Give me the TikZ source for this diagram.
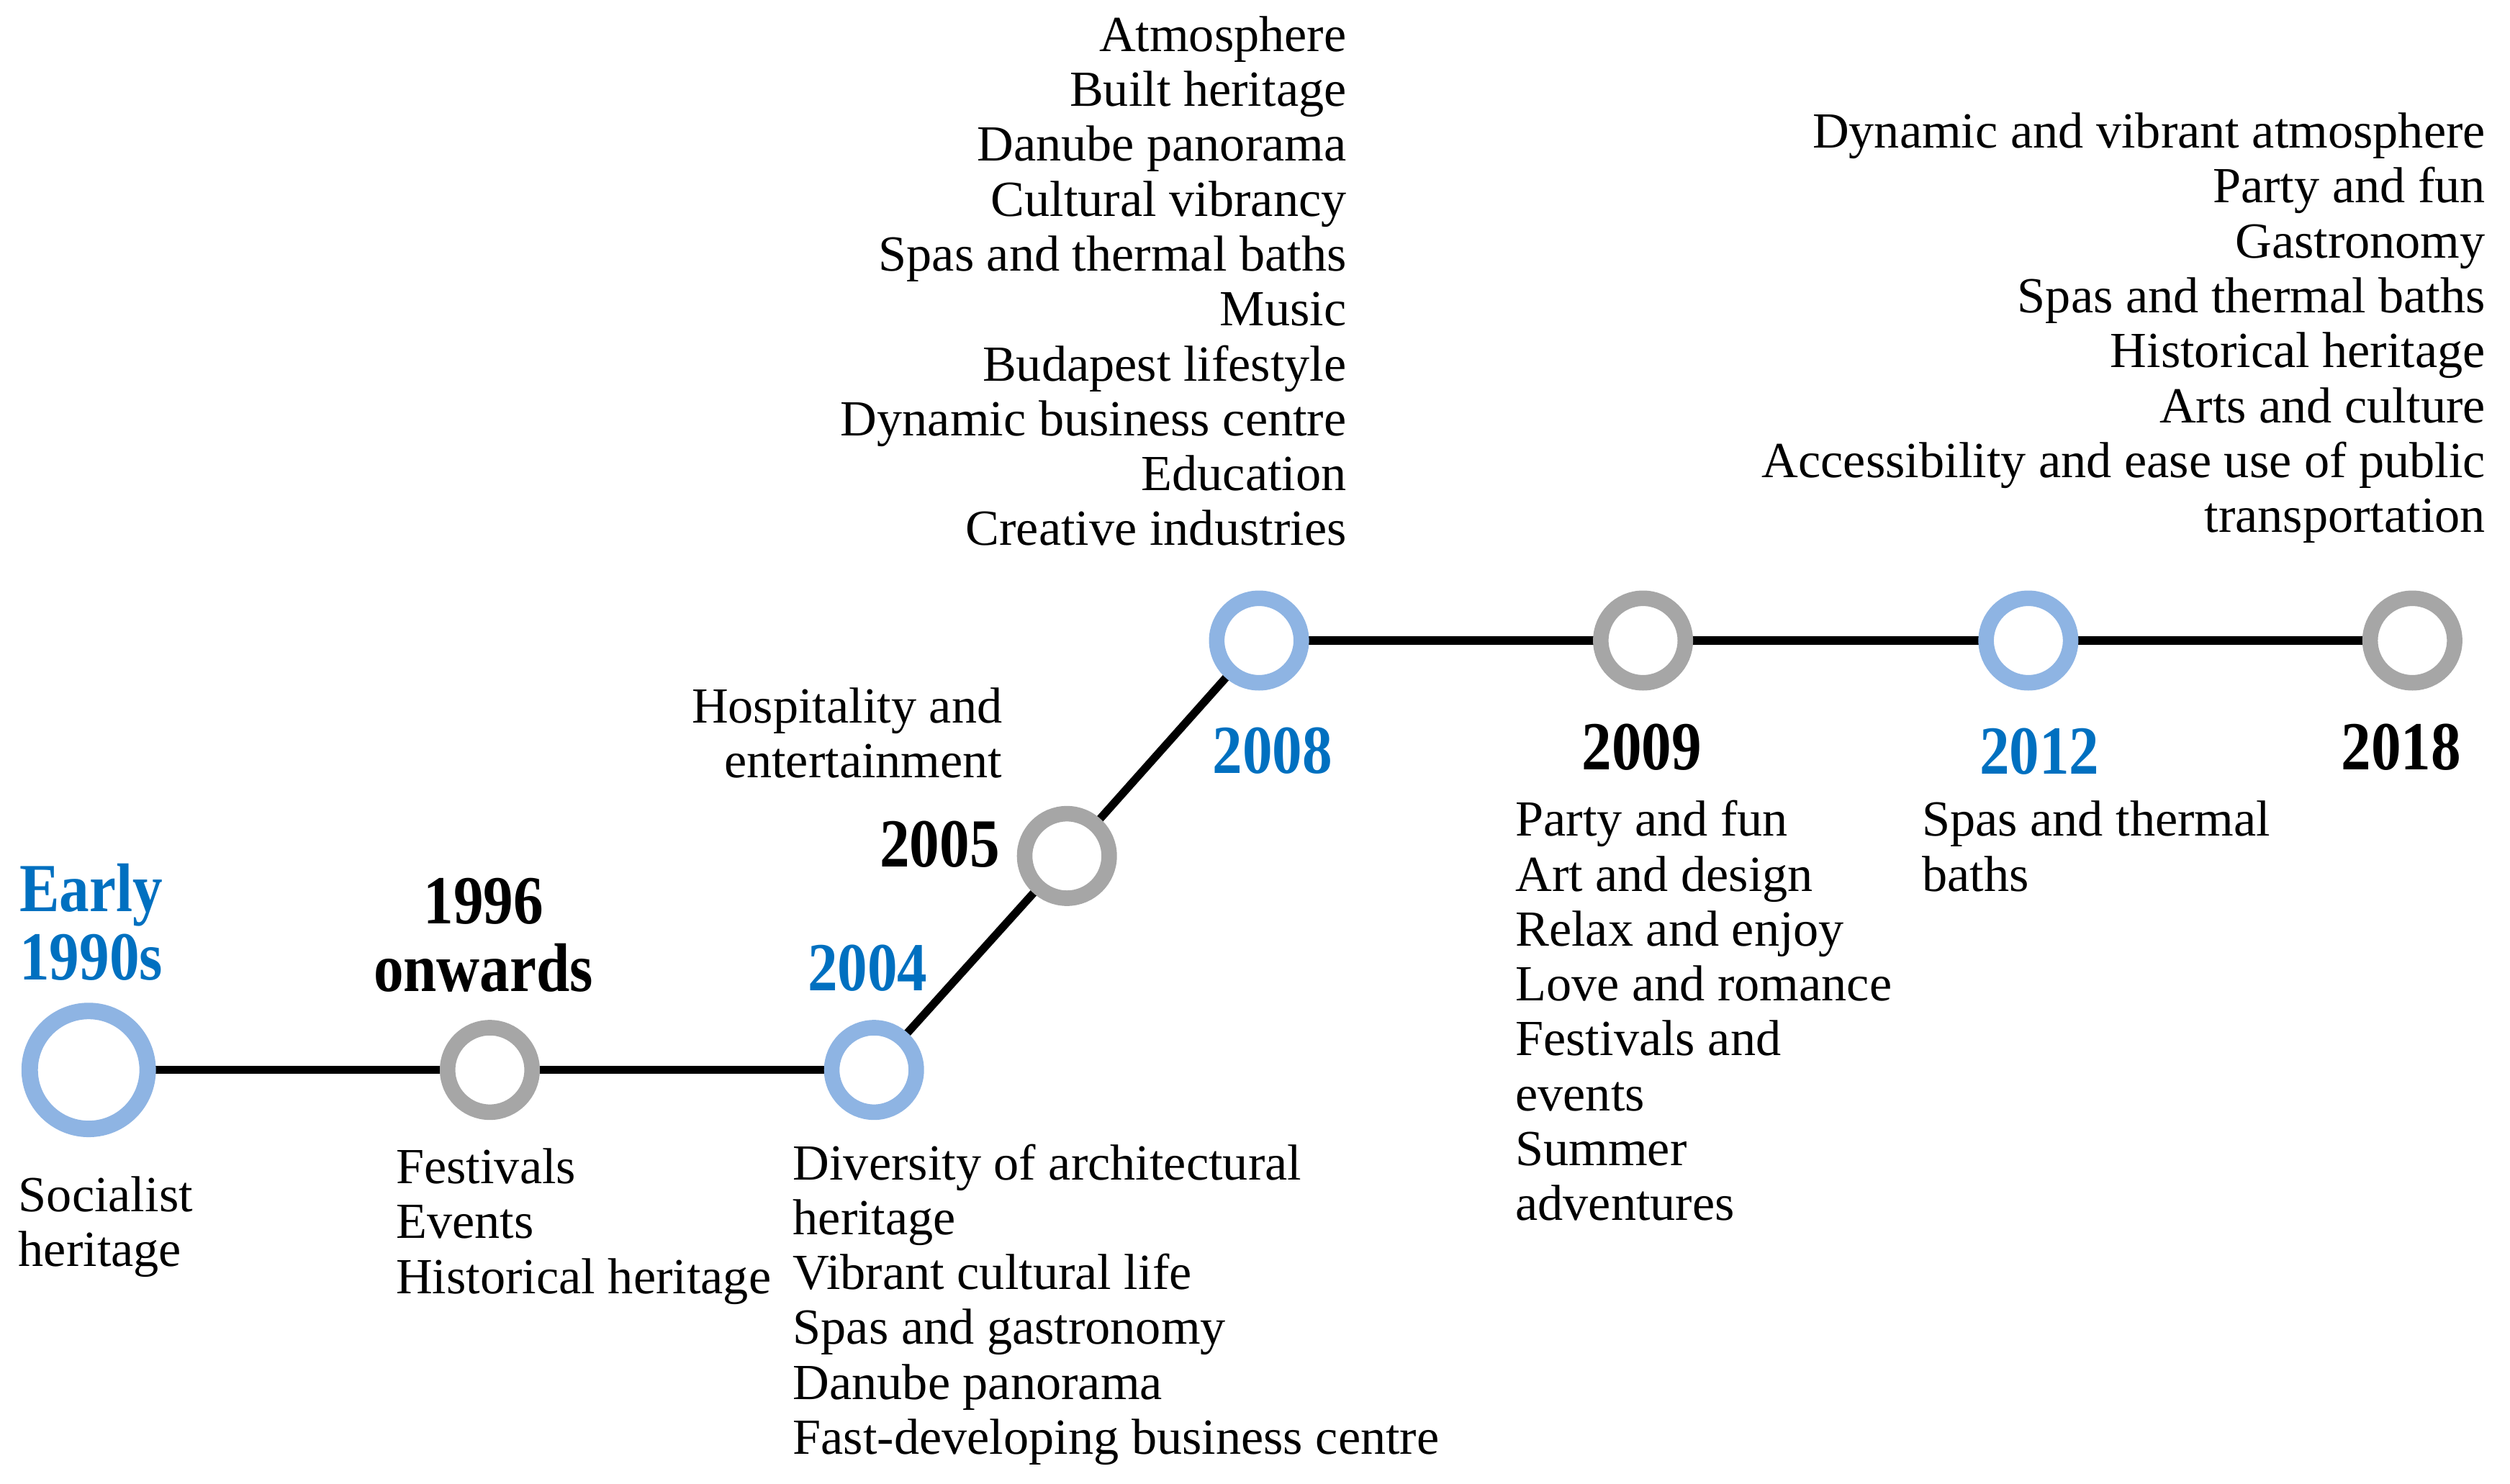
\documentclass[tikz,border=0pt]{standalone}
\usepackage{fontspec}
\setmainfont{Liberation Serif}
\newfontfamily\yearfont{Liberation Serif}[FakeStretch=0.87]
\usetikzlibrary{backgrounds}
\definecolor{ringblue}{RGB}{142,180,227}
\definecolor{ringgray}{RGB}{166,166,166}
\definecolor{yearblue}{RGB}{0,112,192}
\newcommand\bodyfont{\fontsize{15.8}{17.15}\selectfont}
\newcommand\yrfont{\yearfont\bfseries\fontsize{21.5}{21.2}\selectfont}
\newcommand\linesL[1]{\vtop{\baselineskip=17.15pt\lineskiplimit=-100pt\halign{##\hfil\cr#1\crcr}}}
\newcommand\linesR[1]{\vtop{\baselineskip=17.15pt\lineskiplimit=-100pt\halign{\hfil##\cr#1\crcr}}}
\newcommand\linesC[1]{\vtop{\baselineskip=21.2pt\lineskiplimit=-100pt\halign{\hfil##\hfil\cr#1\crcr}}}
\tikzset{
  bigring/.style={circle, draw=ringblue, fill=white, line width=5.15pt, minimum size=36.85pt, inner sep=0pt},
  ringb/.style={circle, draw=ringblue, fill=white, line width=4.85pt, minimum size=26.4pt, inner sep=0pt},
  ringg/.style={circle, draw=ringgray, fill=white, line width=4.85pt, minimum size=26.4pt, inner sep=0pt},
  conn/.style={draw=black, line width=2.5pt},
  txtL/.style={anchor=base west, inner sep=0pt, font=\bodyfont},
  txtR/.style={anchor=base east, inner sep=0pt, font=\bodyfont},
  yearb/.style={anchor=base, inner sep=0pt, font=\yrfont, text=yearblue},
  yeark/.style={anchor=base, inner sep=0pt, font=\yrfont, text=black}
}
\begin{document}
\begin{tikzpicture}[x=0.5pt,y=-0.5pt]
\useasboundingbox (0,0) rectangle (1568,927);
% rings
\node[bigring] (r90) at (55.4,668.5) {};
\node[ringg] (r96) at (306,668.5) {};
\node[ringb] (r04) at (546,668.5) {};
\node[ringg] (r05) at (666.5,534.8) {};
\node[ringb] (r08) at (786.5,400.2) {};
\node[ringg] (r09) at (1026.4,400.2) {};
\node[ringb] (r12) at (1267.1,400.2) {};
\node[ringg] (r18) at (1507,400.2) {};
% connectors
\begin{pgfonlayer}{background}
\draw[conn] (r90.center) -- (r96.center);
\draw[conn] (r96.center) -- (r04.center);
\draw[conn] (r04.center) -- (r05.center);
\draw[conn] (r05.center) -- (r08.center);
\draw[conn] (r08.center) -- (r09.center);
\draw[conn] (r09.center) -- (r12.center);
\draw[conn] (r12.center) -- (r18.center);
\end{pgfonlayer}
% year labels
\node[yearb] (y90) at (57,569.7) {\linesC{Early\cr 1990s}};
\node[yeark] (y96) at (302,577) {\linesC{1996\cr onwards}};
\node[yearb] (y04) at (542,619) {2004};
\node[yeark] (y05) at (587,541.4) {2005};
\node[yearb] (y08) at (795,483.3) {2008};
\node[yeark] (y09) at (1025.6,480.8) {2009};
\node[yearb] (y12) at (1274,483.4) {2012};
\node[yeark] (y18) at (1500,480.8) {2018};
% descriptions
\node[txtL] (t90) at (11.2,757) {\linesL{Socialist\cr heritage}};
\node[txtL] (t96) at (247,739.5) {\linesL{Festivals\cr Events\cr Historical heritage}};
\node[txtL] (t04) at (495,737) {\linesL{Diversity of architectural\cr heritage\cr Vibrant cultural life\cr Spas and gastronomy\cr Danube panorama\cr Fast-developing business centre}};
\node[txtR] (t05) at (626.5,451.7) {\linesR{Hospitality and\cr entertainment}};
\node[txtR] (t08) at (841.5,32.1) {\linesR{Atmosphere\cr Built heritage\cr Danube panorama\cr Cultural vibrancy\cr Spas and thermal baths\cr Music\cr Budapest lifestyle\cr Dynamic business centre\cr Education\cr Creative industries}};
\node[txtL] (t09) at (946.3,522.4) {\linesL{Party and fun\cr Art and design\cr Relax and enjoy\cr Love and romance\cr Festivals and\cr events\cr Summer\cr adventures}};
\node[txtL] (t12) at (1200.3,522.4) {\linesL{Spas and thermal\cr baths}};
\node[txtR] (t18) at (1553,92.5) {\linesR{Dynamic and vibrant atmosphere\cr Party and fun\cr Gastronomy\cr Spas and thermal baths\cr Historical heritage\cr Arts and culture\cr Accessibility and ease use of public\cr transportation}};
\end{tikzpicture}
\end{document}
